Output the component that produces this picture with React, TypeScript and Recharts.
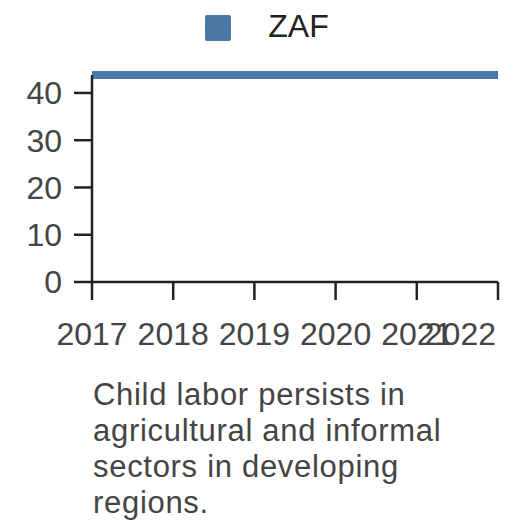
import React from 'react'
import { LineChart, Line, XAxis, YAxis, Legend } from 'recharts'

const years = ['2017', '2018', '2019', '2020', '2021', '2022']
const zafValues = [43.8, 43.8, 43.8, 43.8, 43.8, 43.8]
const yTicks = [0, 10, 20, 30, 40]
const caption = 'Child labor persists in agricultural and informal sectors in developing regions.'

const FONT = '"Liberation Sans", Arial, sans-serif'
const BLUE = '#4c78a8'

const data = years.map((year, i) => ({ year, ZAF: zafValues[i] }))

// last year label is pulled inside the plot so it doesn't get clipped
const XTick = ({ x, y, payload, index }: any) => {
  const last = index === years.length - 1
  return (
    <text
      x={last ? x - 2 : x}
      y={y}
      dy="0.71em"
      textAnchor={last ? 'end' : 'middle'}
      fill="#444"
      fontSize={32}
      fontFamily={FONT}
    >
      {payload.value}
    </text>
  )
}

const LegendContent = () => (
  <div style={{ height: 56, display: 'flex', alignItems: 'flex-start', justifyContent: 'center', paddingLeft: 6 }}>
    <div style={{ width: 26, height: 26, marginTop: 15, background: BLUE, borderRadius: 2 }} />
    <span style={{ marginLeft: 37, marginTop: 8, fontSize: 32, fontFamily: FONT, color: '#222', lineHeight: '37px' }}>
      ZAF
    </span>
  </div>
)

export default function App() {
  return (
    <div style={{ position: 'absolute', left: 0, top: 0, width: 528, height: 528, background: '#fff' }}>
      <LineChart width={528} height={370} data={data} margin={{ top: 19, right: 30, left: 0, bottom: 28 }}>
        <Legend verticalAlign="top" content={<LegendContent />} wrapperStyle={{ top: 0, left: 0, width: 528 }} />
        <XAxis
          dataKey="year"
          height={60}
          tickSize={18}
          tickMargin={22}
          interval={0}
          stroke="#222"
          strokeWidth={2.5}
          tick={<XTick />}
        />
        <YAxis
          width={92}
          domain={[0, 43.8]}
          ticks={yTicks}
          tickSize={18}
          tickMargin={12}
          stroke="#222"
          strokeWidth={2.5}
          tick={{ fill: '#444', fontSize: 32, fontFamily: FONT }}
        />
        <Line
          dataKey="ZAF"
          stroke={BLUE}
          strokeWidth={8}
          dot={false}
          activeDot={false}
          isAnimationActive={false}
        />
      </LineChart>
      <div
        style={{
          position: 'absolute',
          left: 93,
          top: 377,
          width: 370,
          fontSize: 31,
          letterSpacing: 0.7,
          lineHeight: '36px',
          fontFamily: FONT,
          color: '#444',
        }}
      >
        {caption}
      </div>
    </div>
  )
}
